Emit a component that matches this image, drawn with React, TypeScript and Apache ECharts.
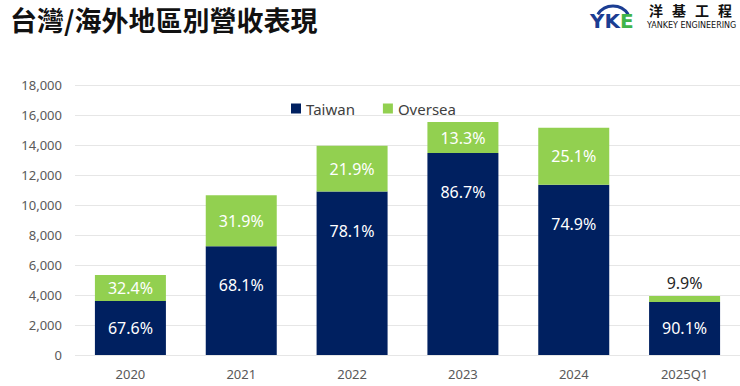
import React, { useEffect, useRef } from "react";
import * as echarts from "echarts";

const categories = ["2020", "2021", "2022", "2023", "2024", "2025Q1"];
const taiwan = [3605, 7255, 10895, 13465, 11350, 3540];
const oversea = [1728, 3395, 3055, 2065, 3800, 390];
const taiwanLabels = ["67.6%", "68.1%", "78.1%", "86.7%", "74.9%", "90.1%"];
const overseaLabels = ["32.4%", "31.9%", "21.9%", "13.3%", "25.1%", "9.9%"];
const yTicks = [0, 2000, 4000, 6000, 8000, 10000, 12000, 14000, 16000, 18000];
const logoChars = ["洋", "基", "工", "程"];

const NAVY = "#002060";
const GREEN = "#92d050";
const FONT = "'Noto Sans', 'Open Sans', sans-serif";

export default function App() {
  const ref = useRef<HTMLDivElement>(null);

  useEffect(() => {
    if (!ref.current) return;
    const chart = echarts.init(ref.current, null, { renderer: "svg" });

    const taiwanData = taiwan.map((v, i) => ({
      value: v,
      label:
        v < 5000
          ? { position: "inside", formatter: taiwanLabels[i] }
          : { position: "insideTop", distance: 31, formatter: taiwanLabels[i] },
    }));
    const overseaData = oversea.map((v, i) => ({
      value: v,
      label:
        v < 1000
          ? { position: "top", distance: 5, color: "#262626", formatter: overseaLabels[i] }
          : { position: "inside", formatter: overseaLabels[i] },
    }));

    chart.setOption({
      animation: false,
      backgroundColor: "#ffffff",
      textStyle: { fontFamily: FONT },
      grid: { left: 75, right: -6, top: 85, bottom: 31 },
      legend: {
        left: 286,
        top: 96,
        icon: "rect",
        itemWidth: 10,
        itemHeight: 10,
        itemGap: 28,
        textStyle: { fontSize: 15, color: "#404040", fontFamily: FONT },
        data: ["Taiwan", "Oversea"],
      },
      xAxis: {
        type: "category",
        data: categories,
        axisLine: { show: false },
        axisTick: { show: false },
        axisLabel: { color: "#595959", fontSize: 13, margin: 12, fontFamily: FONT },
      },
      yAxis: {
        type: "value",
        min: yTicks[0],
        max: yTicks[yTicks.length - 1],
        interval: yTicks[1] - yTicks[0],
        axisLine: { show: false },
        axisTick: { show: false },
        splitLine: { lineStyle: { color: "#e6e6e6", width: 1 } },
        axisLabel: {
          color: "#595959",
          fontSize: 13,
          margin: 13,
          fontFamily: FONT,
          formatter: (v: number) => v.toLocaleString("en-US"),
        },
      },
      series: [
        {
          name: "Taiwan",
          type: "bar",
          stack: "total",
          barWidth: 71,
          itemStyle: { color: NAVY },
          label: { show: true, color: "#ffffff", fontSize: 16, fontFamily: FONT },
          data: taiwanData,
        },
        {
          name: "Oversea",
          type: "bar",
          stack: "total",
          barWidth: 71,
          itemStyle: { color: GREEN },
          label: { show: true, color: "#ffffff", fontSize: 16, fontFamily: FONT },
          data: overseaData,
        },
      ],
      graphic: [
        {
          type: "text",
          x: 10,
          y: 19,
          style: {
            text: "台灣/海外地區別營收表現",
            fontSize: 27,
            fontWeight: "bold",
            fill: "#111111",
            verticalAlign: "middle",
            fontFamily: "'Noto Sans CJK TC', 'Noto Sans CJK SC', sans-serif",
          },
        },
        {
          type: "arc",
          shape: { cx: 613, cy: 24, r: 18, startAngle: -Math.PI * 0.82, endAngle: -Math.PI * 0.18 },
          style: { stroke: "#1b3d92", lineWidth: 3, fill: "none" },
        },
        {
          type: "text",
          x: 590,
          y: 21,
          style: {
            text: "YK",
            fontSize: 20,
            fontWeight: 900,
            fill: "#1b3d92",
            verticalAlign: "middle",
            fontFamily: "'DejaVu Sans', sans-serif",
          },
        },
        {
          type: "text",
          x: 620,
          y: 21,
          style: {
            text: "E",
            fontSize: 20,
            fontWeight: 900,
            fill: "#3fb44a",
            verticalAlign: "middle",
            fontFamily: "'DejaVu Sans', sans-serif",
          },
        },
        ...logoChars.map((c, i) => ({
          type: "text",
          x: 649 + i * 23,
          y: 10,
          style: {
            text: c,
            fontSize: 14,
            fontWeight: "bold",
            fill: "#111111",
            verticalAlign: "middle",
            fontFamily: "'Noto Sans CJK TC', sans-serif",
          },
        })),
        {
          type: "text",
          x: 647,
          y: 25,
          style: {
            text: "YANKEY ENGINEERING",
            fontSize: 8,
            fill: "#111111",
            verticalAlign: "middle",
            fontFamily: "'DejaVu Sans', sans-serif",
          },
        },
      ],
    });

    return () => chart.dispose();
  }, []);

  return (
    <div
      ref={ref}
      style={{ position: "fixed", left: 0, top: 0, width: 740, height: 386, background: "#fff" }}
    />
  );
}
